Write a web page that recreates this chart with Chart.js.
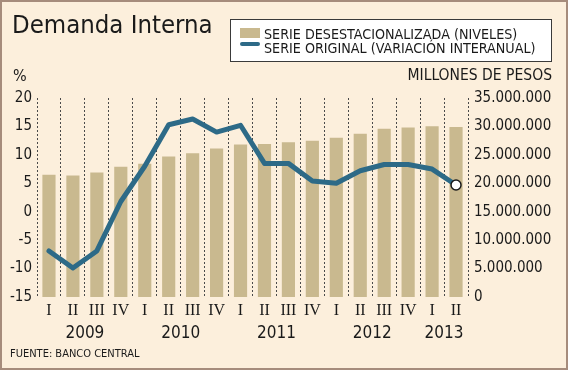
<!DOCTYPE html>
<html>
<head>
<meta charset="utf-8">
<script src="https://cdn.jsdelivr.net/npm/chart.js@4.4.1/dist/chart.umd.min.js"></script>
<style>
    html, body { margin: 0; padding: 0; }
    body {
        width: 568px; height: 370px; position: relative; overflow: hidden;
        background: #fcefdc; color: #1a1a1a;
        font-family: 'DejaVu Sans Condensed', 'DejaVu Sans', sans-serif;
    }
    #chart { position: absolute; left: 0; top: 0; }
    #frame {
        position: absolute; left: 0; top: 0; width: 564px; height: 366px;
        border: 2px solid #a68c7c; pointer-events: none;
    }
    .txt { position: absolute; white-space: nowrap; line-height: 1; }
    .title { left: 12px; top: 12px; font-size: 25.5px; }
    .legend {
        position: absolute; left: 230px; top: 19px; width: 320px; height: 41px;
        background: #fff; border: 1px solid #3a3a3a;
    }
    .legend .swatch-bar { position: absolute; left: 9px; top: 8px; width: 20px; height: 10px; background: #c9b98f; }
    .legend .swatch-line { position: absolute; left: 9px; top: 22px; width: 20px; height: 4px; border-radius: 2px; background: #2d6a87; }
    .legend .txt { left: 33px; font-size: 14.2px; }
    .axis-title { top: 68px; font-size: 16px; }
</style>
</head>
<body>
<canvas id="chart" width="568" height="370"></canvas>
<div class="txt title">Demanda Interna</div>
<div class="legend">
    <div class="swatch-bar"></div>
    <div class="swatch-line"></div>
    <div class="txt" id="lbl-bars" style="top:7px"></div>
    <div class="txt" id="lbl-line" style="top:21px"></div>
</div>
<div class="txt axis-title" style="left:13px">%</div>
<div class="txt axis-title" style="right:16px; font-size:15.5px">MILLONES DE PESOS</div>
<div class="txt" style="left:10px; top:348px; font-size:11px">FUENTE: BANCO CENTRAL</div>
<div id="frame"></div>
<script>
// quarters 2009 I .. 2013 II
const quarters = ['I', 'II', 'III', 'IV', 'I', 'II', 'III', 'IV', 'I', 'II', 'III', 'IV', 'I', 'II', 'III', 'IV', 'I', 'II'];
const years = ['2009', '2010', '2011', '2012', '2013'];

// serie desestacionalizada, millones de pesos (right axis)
const levels = [21500000, 21350000, 21900000, 22900000, 23450000, 24700000, 25300000, 26100000, 26800000,
    26900000, 27200000, 27500000, 28000000, 28700000, 29600000, 29800000, 30050000, 29900000];

// serie original, variacion interanual % (left axis)
const variation = [-6.9, -9.9, -6.9, 1.8, 8.0, 15.3, 16.3, 14.0, 15.2, 8.5, 8.5, 5.4, 5.0, 7.2, 8.3, 8.3, 7.5, 4.7];

const seriesNames = ['SERIE DESESTACIONALIZADA (NIVELES)', 'SERIE ORIGINAL (VARIACIÓN INTERANUAL)'];

const pctTicks = { min: -15, max: 20, step: 5 };
const pesosTicks = { min: 0, max: 35000000, step: 5000000 };

document.getElementById('lbl-bars').textContent = seriesNames[0];
document.getElementById('lbl-line').textContent = seriesNames[1];

const BAR_COLOR = '#c9b98f';
const LINE_COLOR = '#2d6a87';
const TEXT_COLOR = '#1a1a1a';
const TICK_FONT = { family: "'DejaVu Sans Condensed', 'DejaVu Sans', sans-serif", size: 15 };

function dots(v) {
    return String(v).replace(/\B(?=(\d{3})+(?!\d))/g, '.');
}

// no extra padding from the tick labels, chart area is set by widths below
function noPad(scale) {
    scale.paddingTop = 0;
    scale.paddingBottom = 0;
    scale.paddingLeft = 0;
    scale.paddingRight = 0;
}

// year labels under the quarter ticks
const yearLabels = {
    id: 'yearLabels',
    afterDraw(chart) {
        const x = chart.scales.x;
        const ctx = chart.ctx;
        const groups = [];
        quarters.forEach((q, i) => {
            if (q === 'I' || groups.length === 0) groups.push([i, i]);
            else groups[groups.length - 1][1] = i;
        });
        ctx.save();
        ctx.fillStyle = TEXT_COLOR;
        ctx.font = "17px 'DejaVu Sans Condensed', 'DejaVu Sans', sans-serif";
        ctx.textAlign = 'center';
        ctx.textBaseline = 'alphabetic';
        groups.forEach((g, i) => {
            const px = (x.getPixelForValue(g[0]) + x.getPixelForValue(g[1])) / 2;
            ctx.fillText(years[i], px, 338);
        });
        ctx.restore();
    }
};

new Chart(document.getElementById('chart').getContext('2d'), {
    data: {
        labels: quarters,
        datasets: [
            {
                type: 'line',
                label: seriesNames[1],
                data: variation,
                yAxisID: 'y',
                order: 0,
                borderColor: LINE_COLOR,
                borderWidth: 5,
                borderJoinStyle: 'round',
                borderCapStyle: 'round',
                tension: 0,
                clip: false,
                pointRadius: (c) => c.dataIndex === variation.length - 1 ? 5 : 0,
                pointBackgroundColor: '#ffffff',
                pointBorderColor: '#1a1a1a',
                pointBorderWidth: 1.5
            },
            {
                type: 'bar',
                label: seriesNames[0],
                data: levels,
                yAxisID: 'y1',
                order: 1,
                backgroundColor: BAR_COLOR,
                borderWidth: 0,
                categoryPercentage: 1,
                barPercentage: 0.55
            }
        ]
    },
    options: {
        responsive: false,
        animation: false,
        devicePixelRatio: 1,
        layout: { padding: { top: 98, bottom: 0, left: 0, right: 0 } },
        plugins: {
            legend: { display: false },
            tooltip: { enabled: false }
        },
        scales: {
            x: {
                offset: true,
                grid: {
                    offset: true,
                    drawTicks: false,
                    color: '#4a4a4a',
                    lineWidth: 1
                },
                // dashed vertical separators
                border: { display: false, dash: [2, 2] },
                ticks: {
                    color: TEXT_COLOR,
                    padding: 4,
                    maxRotation: 0,
                    autoSkip: false,
                    font: { family: "'Liberation Serif', 'DejaVu Serif', serif", size: 16 }
                },
                afterFit(scale) { noPad(scale); scale.height = 73; }
            },
            y: {
                position: 'left',
                min: pctTicks.min,
                max: pctTicks.max,
                border: { display: false },
                grid: { display: false, drawTicks: false },
                ticks: { stepSize: pctTicks.step, color: TEXT_COLOR, padding: 5, font: TICK_FONT },
                afterFit(scale) { noPad(scale); scale.width = 37; }
            },
            y1: {
                position: 'right',
                min: pesosTicks.min,
                max: pesosTicks.max,
                border: { display: false },
                grid: { display: false, drawTicks: false },
                ticks: {
                    stepSize: pesosTicks.step,
                    color: TEXT_COLOR,
                    padding: 6,
                    font: TICK_FONT,
                    callback: (v) => dots(v)
                },
                afterFit(scale) { noPad(scale); scale.width = 100; }
            }
        }
    },
    plugins: [yearLabels]
});
</script>
</body>
</html>
